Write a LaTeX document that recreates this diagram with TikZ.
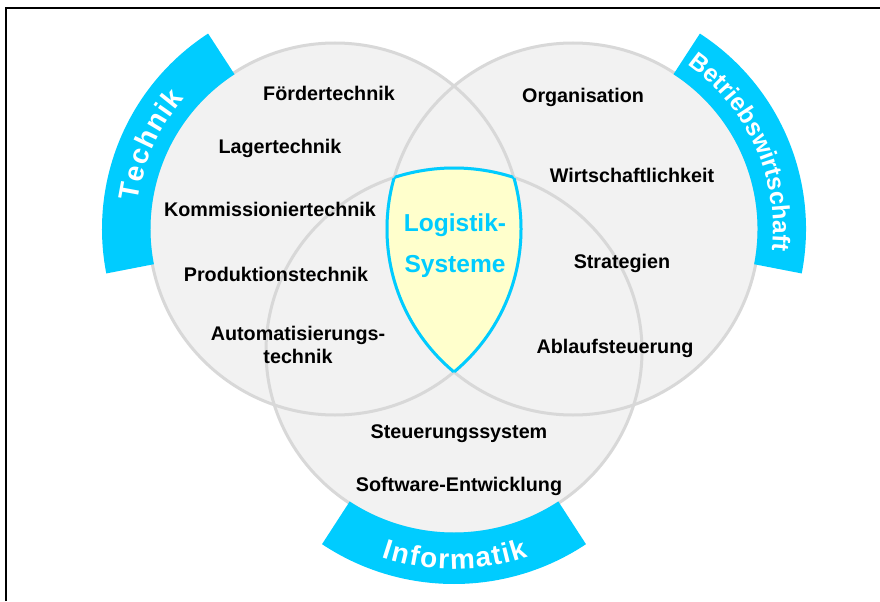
\documentclass[tikz,border=0pt]{standalone}
\usepackage{fontspec}
\setmainfont{Liberation Sans}
\usetikzlibrary{calc,decorations.text}
\definecolor{bandblue}{RGB}{0,204,255}
\definecolor{setfill}{RGB}{242,242,242}
\definecolor{setline}{RGB}{216,216,216}
\definecolor{coreyellow}{RGB}{255,255,204}
\newcommand{\bandfont}{\color{white}\bfseries\fontsize{21}{25}\selectfont}
\newcommand{\bandfontsmall}{\color{white}\bfseries\fontsize{18.4}{22}\selectfont}
\tikzset{
    topic/.style    = {font=\bfseries\fontsize{14.8}{17.3}\selectfont,
            align=center, inner sep=0pt},
    core/.style     = {font=\bfseries\fontsize{18.4}{30.7}\selectfont,
            text=bandblue, align=center, inner sep=0pt},
    setdisc/.style  = {fill=setfill},
    setrim/.style   = {draw=setline, line width=2.25},
    corerim/.style  = {draw=bandblue, line width=2.25},
    band/.style     = {fill=bandblue},
    bandtext/.style = {decorate, decoration={text along path,
            text align=center, text={#1}}},
    bandspread/.style = {decorate, decoration={text along path,
            text align=fit to path, text={#1}}},
}

\begin{document}
\begin{tikzpicture}[x=0.75pt, y=0.75pt]
    \useasboundingbox (0,0) rectangle (880,601);
    \draw[line width=1.5] (6,0) -- (6,593) -- (880,593);

    % centres of the three fields
    \coordinate (tech) at (335,372);
    \coordinate (bwl)  at (573,372);
    \coordinate (info) at (454,250);

    % discs first, rims afterwards so every rim stays visible
    \fill[setdisc] (tech) circle [radius=186];
    \fill[setdisc] (bwl) circle [radius=186];
    \fill[setdisc] (info) ellipse [x radius=188, y radius=183];
    \draw[setrim] (tech) circle [radius=186];
    \draw[setrim] (bwl) circle [radius=186];
    \draw[setrim] (info) ellipse [x radius=188, y radius=183];

    % common part of all three
    \begin{scope}
        \clip (tech) circle [radius=186];
        \clip (bwl) circle [radius=186];
        \fill[coreyellow] (info) ellipse [x radius=188, y radius=183];
        \draw[corerim] (info) ellipse [x radius=188, y radius=183];
    \end{scope}
    \begin{scope}
        \clip (tech) circle [radius=186];
        \clip (info) ellipse [x radius=188, y radius=183];
        \draw[corerim] (bwl) circle [radius=186];
    \end{scope}
    \begin{scope}
        \clip (bwl) circle [radius=186];
        \clip (info) ellipse [x radius=188, y radius=183];
        \draw[corerim] (tech) circle [radius=186];
    \end{scope}

    % bands round the outside
    \fill[band] (tech) ++(123:184.5) arc[start angle=123, end angle=191, radius=184.5]
        -- ++(191:48.5) arc[start angle=191, end angle=123, radius=233] -- cycle;
    \fill[band] (bwl) ++(-11:184.5) arc[start angle=-11, end angle=57, radius=184.5]
        -- ++(57:48.5) arc[start angle=57, end angle=-11, radius=233] -- cycle;
    \fill[band] ($(info)+(236:186.5 and 181.5)$)
        arc[start angle=236, end angle=304, x radius=186.5, y radius=181.5]
        -- ($(info)+(304:236 and 233)$)
        arc[start angle=304, end angle=236, x radius=236, y radius=233] -- cycle;

    \path[bandspread={|\bandfont|Technik}]
        (tech) ++(172:199) arc[start angle=172, end angle=139, radius=199];
    \path[bandtext={|\bandfontsmall|Betriebswirtschaft}]
        (bwl) ++(59:200) arc[start angle=59, end angle=-10, radius=200];
    \path[bandspread={|\bandfont|Informatik}]
        ($(info)+(251:222 and 218)$)
        arc[start angle=251, end angle=289.5, x radius=222, y radius=218];

    % Nodes
    \node[topic] (foerder) at (329,508) {Fördertechnik};
    \node[topic] (lager)   at (280,453) {Lagertechnik};
    \node[topic] (komm)    at (270,392) {Kommissioniertechnik};
    \node[topic] (prod)    at (276,327) {Produktionstechnik};
    \node[topic] (auto)    at (298,256) {Automatisierungs-\\technik};
    \node[topic] (orga)    at (583,504) {Organisation};
    \node[topic] (wirt)    at (632,426) {Wirtschaftlichkeit};
    \node[topic] (strat)   at (622,338) {Strategien};
    \node[topic] (ablauf)  at (615,253) {Ablaufsteuerung};
    \node[topic] (steuer)  at (459,167) {Steuerungssystem};
    \node[topic] (soft)    at (459,115) {Software-Entwicklung};
    \node[core]  (logsys)  at (455,355) {Logistik-\\Systeme};
\end{tikzpicture}
\end{document}
